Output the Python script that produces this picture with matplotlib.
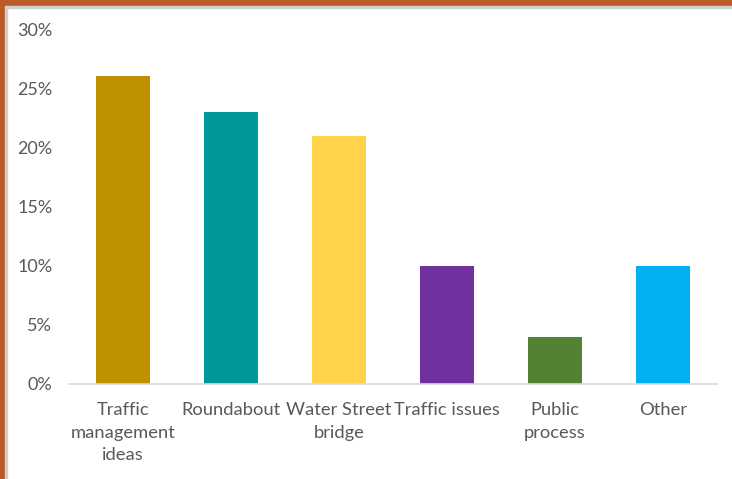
import matplotlib
matplotlib.use("Agg")
import matplotlib.pyplot as plt
from matplotlib.patches import Rectangle

categories = ["Traffic\nmanagement\nideas", "Roundabout", "Water Street\nbridge",
              "Traffic issues", "Public\nprocess", "Other"]
values = [0.26, 0.23, 0.21, 0.10, 0.04, 0.10]
colors = ["#BF9000", "#009999", "#FFD34A", "#7030A0", "#548235", "#00B0F0"]
yticks = [0, 0.05, 0.10, 0.15, 0.20, 0.25, 0.30]
ytick_labels = ["0%", "5%", "10%", "15%", "20%", "25%", "30%"]

W, H = 732, 479
fig = plt.figure(figsize=(W / 100, H / 100), dpi=100)
plt.rcParams['font.family'] = ['Lato', 'DejaVu Sans']

# border strips
fig.patches.append(Rectangle((0, 1 - 6 / H), 1, 6 / H, transform=fig.transFigure,
                             color="#BA5B27", zorder=0))
fig.patches.append(Rectangle((0, 1 - 8 / H), 1, 2 / H, transform=fig.transFigure,
                             color="#D0D0D0", zorder=0))
fig.patches.append(Rectangle((0, 0), 5 / W, 1, transform=fig.transFigure,
                             color="#BA5B27", zorder=0))
fig.patches.append(Rectangle((5 / W, 0), 2 / W, 1 - 6 / H, transform=fig.transFigure,
                             color="#D0D0D0", zorder=0))

ax = fig.add_axes([69 / W, (H - 384) / H, 648 / W, 355 / H])
x = list(range(len(categories)))
ax.bar(x, values, width=0.5, color=colors, zorder=2)
ax.set_xlim(-0.5, len(categories) - 0.5)
ax.set_ylim(0, 0.30)
ax.set_yticks(yticks)
ax.set_yticklabels(ytick_labels)
ax.set_xticks(x)
ax.set_xticklabels(categories, linespacing=1.5)
for s in ["top", "right", "left"]:
    ax.spines[s].set_visible(False)
ax.spines["bottom"].set_color("#D9D9D9")
ax.spines["bottom"].set_linewidth(1.2)
ax.tick_params(axis="both", length=0, colors="#595959")
ax.tick_params(axis="y", pad=12, labelsize=13)
ax.tick_params(axis="x", pad=13, labelsize=13.2)
for lbl in ax.get_xticklabels() + ax.get_yticklabels():
    lbl.set_color("#595959")

fig.savefig("out.png", dpi=100)
